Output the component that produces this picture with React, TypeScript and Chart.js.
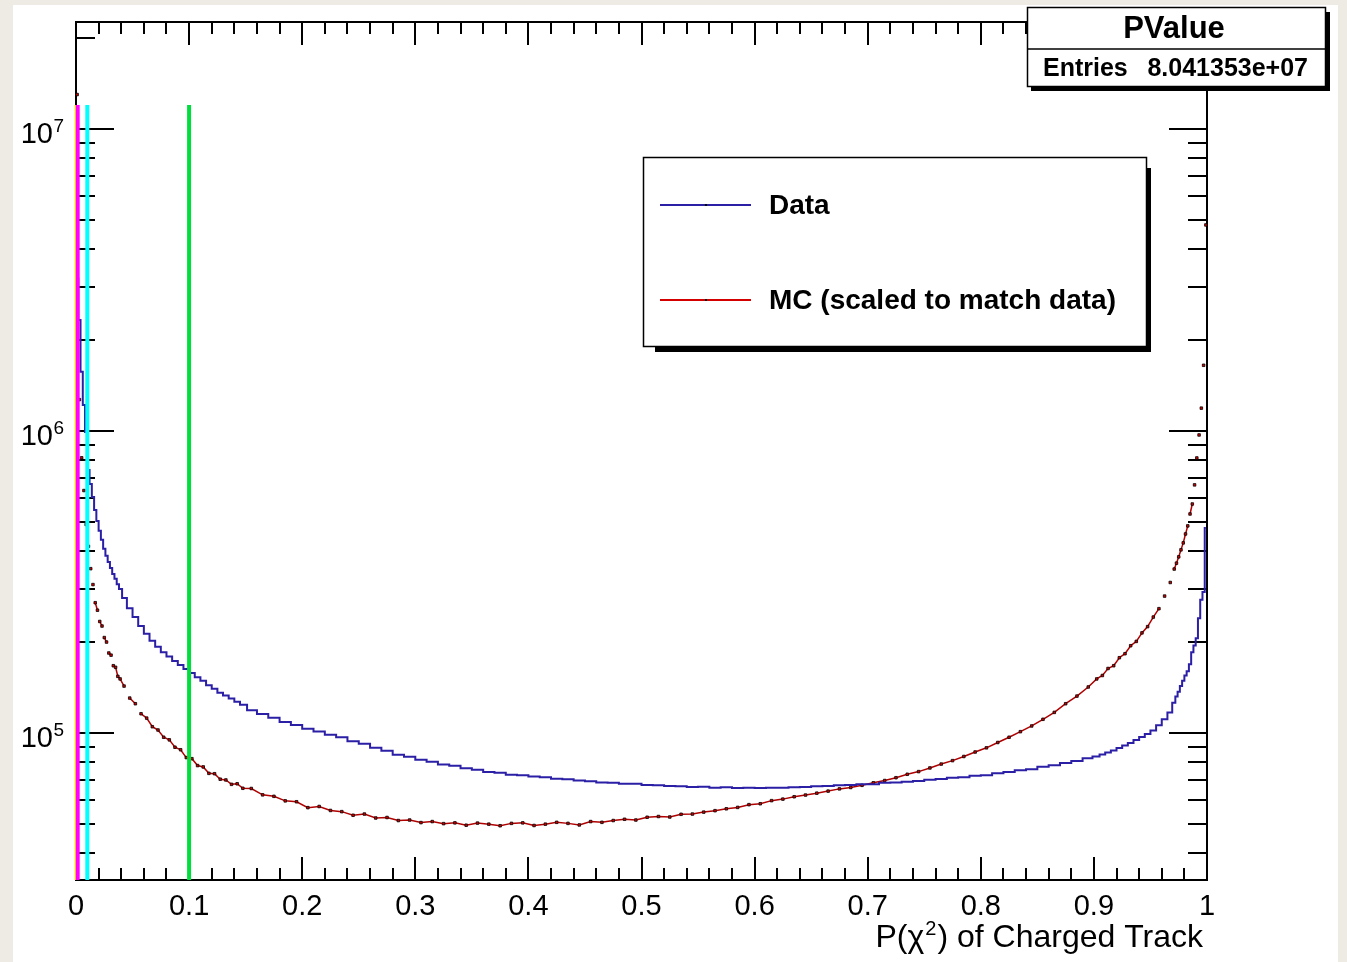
import React, { useEffect, useRef } from "react";
import { Chart, registerables } from "chart.js";

Chart.register(...registerables);

const FONT = '"Liberation Sans", Arial, Helvetica, sans-serif';

// bin centres of the P(chi2) histogram (fine near the edges)
const binX = [
  0.001, 0.003, 0.005, 0.007, 0.009, 0.011, 0.013, 0.015, 0.017, 0.019,
  0.021, 0.023, 0.025, 0.027, 0.029, 0.031, 0.033, 0.035, 0.037, 0.039,
  0.0425, 0.0475, 0.0525, 0.0575, 0.0625, 0.0675, 0.0725, 0.0775, 0.0825, 0.0875,
  0.0925, 0.0975, 0.1025, 0.1075, 0.1125, 0.1175, 0.1225, 0.1275, 0.1325, 0.1375,
  0.1425, 0.1475,
  0.155, 0.165, 0.175, 0.185, 0.195, 0.205, 0.215, 0.225, 0.235, 0.245,
  0.255, 0.265, 0.275, 0.285, 0.295, 0.305, 0.315, 0.325, 0.335, 0.345,
  0.355, 0.365, 0.375, 0.385, 0.395, 0.405, 0.415, 0.425, 0.435, 0.445,
  0.455, 0.465, 0.475, 0.485, 0.495, 0.505, 0.515, 0.525, 0.535, 0.545,
  0.555, 0.565, 0.575, 0.585, 0.595, 0.605, 0.615, 0.625, 0.635, 0.645,
  0.655, 0.665, 0.675, 0.685, 0.695, 0.705, 0.715, 0.725, 0.735, 0.745,
  0.755, 0.765, 0.775, 0.785, 0.795, 0.805, 0.815, 0.825, 0.835, 0.845,
  0.855, 0.865, 0.875, 0.885, 0.895,
  0.9025, 0.9075, 0.9125, 0.9175, 0.9225, 0.9275, 0.9325, 0.9375, 0.9425, 0.9475,
  0.9525, 0.9575, 0.9625, 0.9675,
  0.971, 0.973, 0.975, 0.977, 0.979, 0.981, 0.983, 0.985, 0.987, 0.989,
  0.991, 0.993, 0.995, 0.997, 0.999,
];

// Data histogram counts
const dataCounts = [
  3200000, 2330000, 1570000, 1220000, 993000, 743000, 668000, 605000, 547000, 503000,
  467000, 436000, 407000, 386000, 368000, 352000, 336000, 324000, 311000, 300000,
  280000, 259000, 242000, 226000, 213000, 202000, 193000, 185000, 179000, 173000,
  168000, 163000, 158000, 153000, 149000, 144000, 140000, 136000, 133000, 130000,
  127000, 124000,
  119000, 115600, 112300, 108800, 106200, 103300, 101200, 98700, 96800, 93900,
  92100, 89300, 87400, 84700, 83500, 81500, 80300, 78700, 77900, 76400,
  75600, 74200, 73900, 72700, 72500, 71700, 71400, 70600, 70300, 69600,
  69200, 68500, 68400, 67900, 67900, 67200, 67100, 66700, 66600, 66200,
  66400, 65900, 66100, 65700, 65900, 65700, 65900, 65900, 66100, 66200,
  66600, 66700, 67100, 67200, 67700, 67700, 68400, 68500, 68900, 69300,
  70000, 70400, 71100, 71400, 72200, 72500, 73600, 74200, 75300, 75900,
  77300, 78200, 79600, 80700, 82400,
  83600, 84900, 86200, 87500, 89200, 90900, 92700, 94800, 97000, 99200,
  102000, 106000, 111000, 117000,
  126000, 132000, 137000, 143000, 149000, 155000, 160000, 169000, 185000, 195000,
  206000, 240000, 276000, 293000, 477000,
];

// MC counts (scaled to match data)
const mcCounts = [
  13000000, 1270000, 815000, 635000, 490000, 415000, 350000, 310000, 270000, 255000,
  234000, 226000, 207000, 200000, 184000, 181000, 167000, 165000, 154000, 151000,
  143000, 130500, 125000, 115800, 112000, 104900, 102300, 96800, 94900, 89700,
  88000, 82900, 82200, 78000, 77200, 73500, 73300, 70300, 69900, 67600,
  67900, 65600,
  65500, 62400, 61700, 59600, 59200, 56600, 57100, 55400, 54900, 53400,
  53900, 52300, 52500, 51300, 51500, 50500, 50900, 50100, 50400, 49500,
  50300, 49900, 49300, 50200, 50400, 49400, 49900, 50600, 50200, 49600,
  50900, 50600, 51300, 51800, 51500, 52600, 52900, 52700, 53800, 53900,
  54700, 55300, 56100, 56700, 57900, 58300, 59700, 60400, 61500, 62300,
  63200, 64200, 65300, 66000, 67100, 68400, 69600, 71100, 73000, 74500,
  76600, 78900, 81000, 83600, 86500, 89300, 93000, 96800, 101000, 105500,
  111000, 117000, 125000, 132500, 142000,
  151000, 155000, 163500, 167000, 177500, 183000, 194500, 201000, 214500, 225000,
  242000, 258000, 284000, 315000,
  349000, 365000, 383000, 404000, 426000, 456000, 485000, 531000, 573000, 663000,
  814000, 970000, 1190000, 1650000, 4810000,
];

const xTickValues = [0, 0.1, 0.2, 0.3, 0.4, 0.5, 0.6, 0.7, 0.8, 0.9, 1];
const xTickLabels = ["0", "0.1", "0.2", "0.3", "0.4", "0.5", "0.6", "0.7", "0.8", "0.9", "1"];
const yDecades = [5, 6, 7];
const Y_MIN = 32600;
const Y_MAX = 22600000;

// selection cut lines
const cutX = [0, 0.0015, 0.01, 0.1];
const cutColors = ["#ffff00", "#ff00ff", "#00ffff", "#00dd3c"];
const cutWidths = [3, 4, 4, 4];
const cutTop = 12000000;

const legendLabels = ["Data", "MC (scaled to match data)"];
const statsTitle = "PValue";
const statsLabel = "Entries";
const statsValue = "8.041353e+07";

const BLUE = "#2b1fa6";
const RED = "#d40000";

const rootPlugin = {
  id: "rootStyle",
  beforeDraw(chart: any) {
    const ctx = chart.ctx;
    ctx.save();
    ctx.fillStyle = "#eeebe4";
    ctx.fillRect(0, 0, chart.width, chart.height);
    ctx.fillStyle = "#ffffff";
    ctx.fillRect(13, 5, 1325, chart.height - 5);
    ctx.restore();
  },
  beforeDatasetsDraw(chart: any) {
    const { ctx, chartArea: a } = chart;
    const xs = chart.scales.x;
    const ys = chart.scales.y;
    ctx.save();
    ctx.strokeStyle = "#000";
    ctx.lineWidth = 2;
    ctx.strokeRect(a.left, a.top, a.right - a.left, a.bottom - a.top);
    ctx.beginPath();
    for (let i = 0; i < xTickValues.length; i++) {
      for (let j = 0; j < 5; j++) {
        if (i === xTickValues.length - 1 && j > 0) break;
        const v = xTickValues[i] + (j * 0.1) / 5;
        const px = Math.round(xs.getPixelForValue(v));
        const len = j === 0 ? 23 : 12;
        ctx.moveTo(px, a.bottom);
        ctx.lineTo(px, a.bottom - len);
        ctx.moveTo(px, a.top);
        ctx.lineTo(px, a.top + len);
      }
    }
    for (let e = 4; e <= 7; e++) {
      for (let k = 1; k <= 9; k++) {
        const v = k * Math.pow(10, e);
        if (v < Y_MIN || v > Y_MAX) continue;
        const py = Math.round(ys.getPixelForValue(v));
        const len = k === 1 ? 38 : 19;
        ctx.moveTo(a.left, py);
        ctx.lineTo(a.left + len, py);
        ctx.moveTo(a.right, py);
        ctx.lineTo(a.right - len, py);
      }
    }
    ctx.stroke();

    ctx.fillStyle = "#000";
    ctx.font = `29px ${FONT}`;
    ctx.textAlign = "center";
    ctx.textBaseline = "alphabetic";
    xTickValues.forEach((v, i) => {
      ctx.fillText(xTickLabels[i], xs.getPixelForValue(v), 915);
    });
    yDecades.forEach((d) => {
      const py = ys.getPixelForValue(Math.pow(10, d));
      ctx.font = `29px ${FONT}`;
      ctx.textAlign = "right";
      ctx.fillText("10", 53, py + 14);
      ctx.font = `19px ${FONT}`;
      ctx.textAlign = "left";
      ctx.fillText(String(d), 53.5, py + 3);
    });
    const p1 = "P(\u03C7";
    const p2 = "2";
    const p3 = ") of Charged Track";
    ctx.font = `32px ${FONT}`;
    const w1 = ctx.measureText(p1).width;
    const w3 = ctx.measureText(p3).width;
    ctx.font = `20px ${FONT}`;
    const w2 = ctx.measureText(p2).width + 2;
    const right = 1203;
    const base = 947;
    let xx = right - (w1 + w2 + w3);
    ctx.textAlign = "left";
    ctx.font = `32px ${FONT}`;
    ctx.fillText(p1, xx, base);
    xx += w1 + 1;
    ctx.font = `20px ${FONT}`;
    ctx.fillText(p2, xx, base - 12);
    xx += w2 - 1;
    ctx.font = `32px ${FONT}`;
    ctx.fillText(p3, xx, base);
    ctx.restore();
  },
  afterDatasetsDraw(chart: any) {
    const { ctx, chartArea: a } = chart;
    const xs = chart.scales.x;
    const ys = chart.scales.y;
    ctx.save();
    const top = ys.getPixelForValue(cutTop);
    cutX.forEach((v, i) => {
      const px = xs.getPixelForValue(v);
      ctx.strokeStyle = cutColors[i];
      ctx.lineWidth = cutWidths[i];
      ctx.beginPath();
      ctx.moveTo(px, top);
      ctx.lineTo(px, a.bottom);
      ctx.stroke();
    });
    ctx.restore();
  },
  afterDraw(chart: any) {
    const ctx = chart.ctx;
    ctx.save();
    ctx.fillStyle = "#000";
    ctx.fillRect(655, 168, 496, 184);
    ctx.fillStyle = "#fff";
    ctx.fillRect(643, 157, 504, 190);
    ctx.strokeStyle = "#000";
    ctx.lineWidth = 1.5;
    ctx.strokeRect(643.5, 157.5, 503, 189);
    const rows = [205, 300];
    const cols = [BLUE, RED];
    rows.forEach((ry, i) => {
      ctx.strokeStyle = cols[i];
      ctx.lineWidth = 2;
      ctx.beginPath();
      ctx.moveTo(660, ry);
      ctx.lineTo(751, ry);
      ctx.stroke();
      ctx.fillStyle = "#000";
      ctx.fillRect(705, ry - 1, 2, 2);
      ctx.font = `bold 28px ${FONT}`;
      ctx.textAlign = "left";
      ctx.textBaseline = "middle";
      ctx.fillText(legendLabels[i], 769, ry + 1);
    });
    ctx.fillStyle = "#000";
    ctx.fillRect(1031, 12, 299, 79);
    ctx.fillStyle = "#fff";
    ctx.fillRect(1027, 7, 299, 80);
    ctx.strokeStyle = "#000";
    ctx.lineWidth = 1.5;
    ctx.strokeRect(1027.5, 7.5, 298, 79);
    ctx.beginPath();
    ctx.moveTo(1027, 49);
    ctx.lineTo(1326, 49);
    ctx.stroke();
    ctx.fillStyle = "#000";
    ctx.textBaseline = "middle";
    ctx.font = `bold 31px ${FONT}`;
    ctx.textAlign = "center";
    ctx.fillText(statsTitle, 1174, 29);
    ctx.font = `bold 25px ${FONT}`;
    ctx.textAlign = "left";
    ctx.fillText(statsLabel, 1043, 69);
    ctx.textAlign = "right";
    ctx.fillText(statsValue, 1308, 69);
    ctx.restore();
  },
};

export default function App() {
  const ref = useRef<HTMLCanvasElement>(null);
  useEffect(() => {
    const canvas = ref.current;
    if (!canvas) return;
    const chart = new Chart(canvas, {
      type: "line",
      data: {
        datasets: [
          {
            label: legendLabels[0],
            data: binX.map((x, i) => ({ x, y: dataCounts[i] })),
            stepped: "middle",
            borderColor: BLUE,
            borderWidth: 2,
            pointRadius: 0,
            fill: false,
          },
          {
            label: legendLabels[1],
            data: binX.map((x, i) => ({ x, y: mcCounts[i] })),
            showLine: true,
            borderColor: "#b00000",
            borderWidth: 1.5,
            pointRadius: 1.8,
            pointStyle: "rect",
            pointBackgroundColor: RED,
            pointBorderColor: "#000000",
            pointBorderWidth: 0.8,
            fill: false,
            segment: {
              borderColor: (c: any) =>
                Math.abs(c.p0.y - c.p1.y) > 10 ? "rgba(0,0,0,0)" : undefined,
            },
          },
        ],
      },
      options: {
        responsive: false,
        maintainAspectRatio: false,
        devicePixelRatio: 1,
        animation: false,
        events: [],
        layout: { padding: { left: 76, top: 22, right: 140, bottom: 82 } },
        plugins: { legend: { display: false }, tooltip: { enabled: false } },
        scales: {
          x: { type: "linear", min: 0, max: 1, display: false },
          y: { type: "logarithmic", min: Y_MIN, max: Y_MAX, display: false },
        },
      } as any,
      plugins: [rootPlugin as any],
    });
    return () => chart.destroy();
  }, []);
  return (
    <div style={{ position: "absolute", left: 0, top: 0, width: 1347, height: 962 }}>
      <canvas ref={ref} width={1347} height={962} style={{ display: "block", width: 1347, height: 962 }} />
    </div>
  );
}
